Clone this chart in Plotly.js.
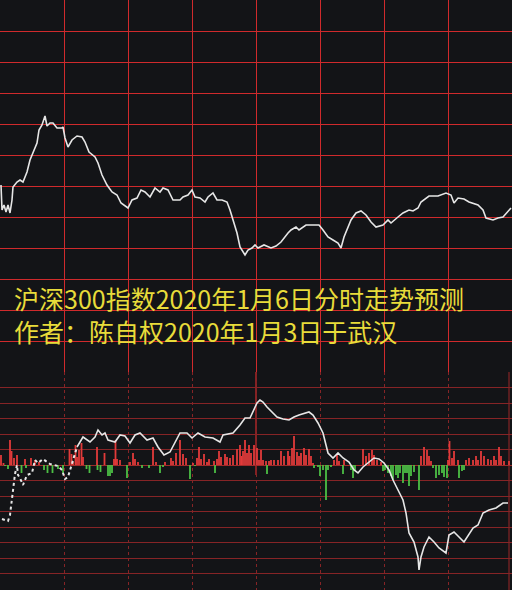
<!DOCTYPE html>
<html>
<head>
<meta charset="utf-8">
<script src="https://cdn.plot.ly/plotly-3.0.1.min.js"></script>
<style>html,body{margin:0;padding:0;background:#131417;}#chart{width:512px;height:590px;}</style>
</head>
<body>
<div id="chart"></div>
<script>
// Top panel: index intraday line (time ticks 0..512, level units)
const topTime = [1,2,4,6,8,10,12,13,17,20,23,27,30,33,37,39,42,45,47,50,53,57,62,63,65,68,72,77,82,85,89,95,98,102,107,112,117,121,125,128,132,137,141,145,150,155,160,163,168,173,180,183,188,192,195,200,205,208,213,217,222,227,230,233,237,240,245,248,252,255,258,264,271,276,281,288,291,296,299,306,319,323,328,333,338,341,344,351,356,361,366,371,376,383,388,391,394,398,403,409,413,418,421,426,429,438,446,451,454,458,464,469,474,478,483,486,493,498,503,508,511];
const topLevel = [187,162,167,160,167,159,172,185,190,192,190,200,212,219,229,242,247,256,246,249,249,244,244,245,234,225,232,236,235,230,220,215,209,197,187,180,177,169,166,164,172,174,182,180,175,184,180,184,182,172,172,175,177,182,175,174,170,175,179,172,172,170,162,152,139,125,117,122,124,127,124,127,124,126,130,139,142,145,142,147,147,142,135,132,129,124,135,152,159,161,157,150,145,147,152,149,152,155,159,162,161,164,170,174,176,176,179,177,169,174,173,170,168,167,162,154,152,154,155,160,164];

// Bottom panel: line (dotted opening part, then solid)
const botTimeA = [2,5,8,10,12,13,15,17,18,20,23,25,27,32,35,38,43,50,58,62,65,68,77];
const botLevelA = [-54,-55,-56,-50,-35,-25,-9,0,-10,-13,-20,-15,-10,-8,5,2,6,1,-1,-5,-14,-12,18];
const botTimeB = [77,83,90,95,98,102,105,108,115,120,125,130,135,140,147,153,158,164,170,175,180,187,192,198,205,213,220,223,233,240,245,250,254,257,260,263,267,272,277,283,289,294,299,309,313,318,323,326,328,333,338,343,349,354,358,363,369,374,379,384,389,393,398,403,406,409,414,418,419,421,424,429,434,439,446,449,454,464,473,478,483,489,496,503,508];
const botLevelB = [18,28,23,28,35,30,32,25,23,30,29,22,30,32,25,27,18,10,13,22,32,32,27,32,28,27,23,30,32,40,47,47,55,62,65,63,58,53,48,46,45,48,50,53,50,42,32,20,12,7,12,7,3,-5,-8,-2,3,7,6,2,-5,-15,-25,-35,-48,-68,-77,-92,-105,-92,-82,-72,-77,-83,-88,-70,-67,-77,-63,-60,-48,-45,-43,-38,-38];

// Bottom panel bars
const upTime = [1,3.5,10,11.5,14,17,25,31,35,39,69.5,71.5,73,75.5,77,79,81.5,83,97,104.5,114,115.5,117,120,130,133,135,138,153,156,165,171,173,176,180,183,186,193,197,199,201,204,207,209,214,217,219,221,225,227,230,233,237,240,241.5,243,245,247,249,251,254,257,259,261,263,266,269,271,274,278,281,284,288,289.5,292,294,297,299,301,304,306,309,311,313,334,337,339,344,363,366,369,372,374,377,381,421,424,427,429,431,448,449.5,452,454,458,466,469,473,476,478,481,484,488,491,494,496,499,501,504,509];
const upValue = [10,2,25,14,7,10,6,7,5,3,16,11,3,20,8,15,22,8,18,12,6,25,6,5,3,12,6,3,18,3,3,7,4,12,25,11,7,2,7,18,6,11,3,6,4,6,14,8,11,8,7,10,16,20,9,14,25,12,20,12,20,17,5,15,5,4,4,5,5,5,14,9,14,9,17,29,13,9,12,17,10,16,9,2,5,10,4,5,16,9,12,15,10,5,3,9,18,15,9,4,5,24,7,14,5,5,7,5,9,5,14,9,6,5,9,5,18,9,4,4];
const downTime = [5,8,21.5,26,44,47.5,52.5,58,63,86.5,89.5,97.5,100.5,108,110,112,127,142,149,160,163,190,195,215,267,314,318,320,323,326,328,331,343,351,353,355,383,385,388,391,393,396,398,400,403,405,407,409,411,414,419,433,436,439,442,444,447,459,462,464];
const downValue = [-1,-4,-8,-3,-5,-8,-8,-4,-8,-4,-8,-5,-7,-11,-11,-8,-13,-3,-3,-8,-2,-14,-1,-8,-9,-3,-2,-11,-5,-35,-5,-2,-9,-5,-13,-6,-6,-5,-8,-11,-15,-10,-13,-8,-18,-8,-8,-21,-11,-7,-25,-3,-13,-10,-8,-12,-13,-13,-6,-5];

// Text
const titleLine1 = '沪深300指数2020年1月6日分时走势预测';
const titleLine2 = '作者：陈自权2020年1月3日于武汉';

const BG = '#131417';
const RED = '#d02a2c';
const DARKRED = '#862426';
const BAR_W = 1.8;

const traces = [
  {x: topTime, y: topLevel, xaxis: 'x', yaxis: 'y', type: 'scatter', mode: 'lines',
   line: {color: '#e6e6e6', width: 1.6}, hoverinfo: 'skip'},
  {x: upTime, y: upValue, xaxis: 'x2', yaxis: 'y2', type: 'bar', width: BAR_W,
   marker: {color: '#e23a3a', line: {width: 0}}, hoverinfo: 'skip'},
  {x: downTime, y: downValue, xaxis: 'x2', yaxis: 'y2', type: 'bar', width: BAR_W,
   marker: {color: '#4cbf45', line: {width: 0}}, hoverinfo: 'skip'},
  {x: botTimeA, y: botLevelA, xaxis: 'x2', yaxis: 'y2', type: 'scatter', mode: 'lines',
   line: {color: '#e6e6e6', width: 2, dash: 'dot'}, hoverinfo: 'skip'},
  {x: botTimeB, y: botLevelB, xaxis: 'x2', yaxis: 'y2', type: 'scatter', mode: 'lines',
   line: {color: '#e6e6e6', width: 1.6}, hoverinfo: 'skip'}
];

const splitY = 218 / 590;

const layout = {
  width: 512, height: 590,
  margin: {l: 0, r: 0, t: 0, b: 0, pad: 0},
  paper_bgcolor: BG, plot_bgcolor: BG,
  showlegend: false,
  barmode: 'overlay',
  xaxis: {domain: [0, 1], range: [0, 512], anchor: 'y', tick0: 0, dtick: 64,
          showgrid: true, gridcolor: RED, gridwidth: 1, zeroline: false,
          showticklabels: false, ticks: '', showline: false, fixedrange: true},
  yaxis: {domain: [splitY, 1], range: [0, 372], anchor: 'x', tick0: 0, dtick: 31,
          showgrid: true, gridcolor: RED, gridwidth: 1, zeroline: false,
          showticklabels: false, ticks: '', showline: true, linecolor: RED, linewidth: 1,
          fixedrange: true},
  xaxis2: {domain: [0, 1], range: [0, 512], anchor: 'y2', tick0: 0, dtick: 64,
           showgrid: true, gridcolor: DARKRED, gridwidth: 1, griddash: 'dot', zeroline: false,
           showticklabels: false, ticks: '', showline: false, fixedrange: true},
  yaxis2: {domain: [0, splitY], range: [-125, 93], anchor: 'x2', tick0: 0, dtick: 15.5,
           showgrid: true, gridcolor: DARKRED, gridwidth: 1, zeroline: true,
           zerolinecolor: '#a02a2a', zerolinewidth: 1,
           showticklabels: false, ticks: '', showline: false, fixedrange: true},
  shapes: [
    {type: 'line', xref: 'x2', yref: 'y2', x0: 256, x1: 256, y0: 93, y1: -10,
     line: {color: RED, width: 1.2}, layer: 'below'},
    {type: 'line', xref: 'x2', yref: 'y2', x0: 509, x1: 509, y0: -125, y1: 93,
     line: {color: DARKRED, width: 1.2}, layer: 'below'}
  ],
  annotations: [
    {text: titleLine1 + '<br>' + titleLine2, xref: 'paper', yref: 'paper',
     x: 12 / 512, y: (590 - 314) / 590, align: 'left',
     xanchor: 'left', yanchor: 'middle', showarrow: false,
     font: {family: '"Noto Sans CJK SC", sans-serif', size: 25, color: '#e8dc3a'}}
  ]
};

Plotly.newPlot('chart', traces, layout, {staticPlot: true, displayModeBar: false});
</script>
</body>
</html>
